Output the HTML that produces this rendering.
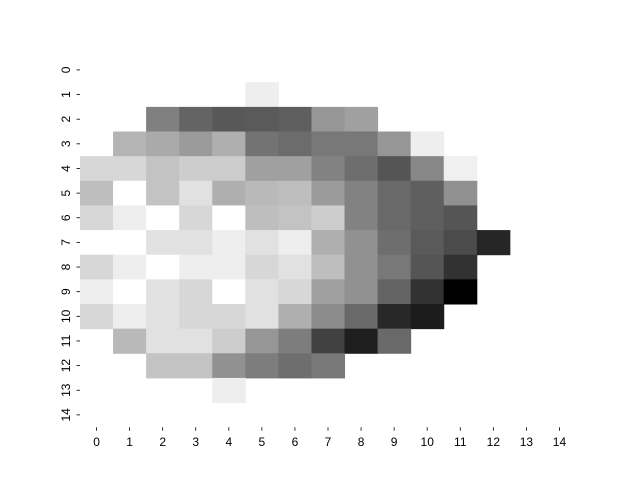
<!DOCTYPE html>
<html><head><meta charset="utf-8">
<style>
html,body{margin:0;padding:0;background:#fff;}
svg{display:block;font-family:"Liberation Sans","DejaVu Sans",sans-serif;}
</style></head>
<body>
<svg id="chart" width="640" height="480" viewBox="0 0 640 480" xmlns="http://www.w3.org/2000/svg">
<g id="cells"></g>
<g id="xaxis"></g>
<g id="yaxis"></g>
</svg>
<script>
const xLabels = [0,1,2,3,4,5,6,7,8,9,10,11,12,13,14];
const yLabels = [0,1,2,3,4,5,6,7,8,9,10,11,12,13,14];
const N = null;
// gray level per cell (0 = black, 255 = white), null = empty
const grid = [
[N,N,N,N,N,N,N,N,N,N,N,N,N,N,N],
[N,N,N,N,N,238,N,N,N,N,N,N,N,N,N],
[N,N,128,100,88,90,95,150,160,N,N,N,N,N,N],
[N,180,170,155,175,115,108,120,120,150,238,N,N,N,N],
[215,215,195,205,205,160,160,130,110,85,135,240,N,N,N],
[190,255,195,225,175,185,190,155,130,105,95,145,N,N,N],
[215,238,255,215,255,190,195,205,130,105,95,85,N,N,N],
[255,255,225,225,238,225,238,175,145,110,90,75,38,N,N],
[215,238,255,238,238,215,225,190,145,120,85,50,N,N,N],
[238,255,225,215,255,225,215,160,145,100,50,0,N,N,N],
[215,238,225,215,215,225,175,140,105,40,28,N,N,N,N],
[N,185,225,225,205,150,125,65,30,105,N,N,N,N,N],
[N,N,195,195,145,125,110,120,N,N,N,N,N,N,N],
[N,N,N,N,238,N,N,N,N,N,N,N,N,N,N],
[N,N,N,N,N,N,N,N,N,N,N,N,N,N,N]
];
const NS="http://www.w3.org/2000/svg";
const plotLeft=80, plotRight=576, plotTop=57.6, plotBottom=427.2;
const cw=(plotRight-plotLeft)/xLabels.length, ch=(plotBottom-plotTop)/yLabels.length;
function xPos(i){return plotLeft+i*cw;}
function yPos(j){return plotTop+j*ch;}
const cells=document.getElementById('cells');
grid.forEach((row,j)=>row.forEach((v,i)=>{
  if(v===null) return;
  const r=document.createElementNS(NS,'rect');
  r.setAttribute('x',xPos(i));r.setAttribute('y',yPos(j));
  r.setAttribute('width',cw+0.5);r.setAttribute('height',ch+0.5);
  r.setAttribute('fill',`rgb(${v},${v},${v})`);
  
  
  cells.appendChild(r);
}));
const xa=document.getElementById('xaxis');
xLabels.forEach((l,i)=>{
  const cx=xPos(i)+cw/2;
  const t=document.createElementNS(NS,'line');
  t.setAttribute('x1',cx);t.setAttribute('x2',cx);t.setAttribute('y1',plotBottom);t.setAttribute('y2',plotBottom+3.5);
  t.setAttribute('stroke','#000');t.setAttribute('stroke-width','0.8');
  
  
  xa.appendChild(t);
  const tx=document.createElementNS(NS,'text');
  tx.setAttribute('x',cx);tx.setAttribute('y',plotBottom+19);tx.setAttribute('text-anchor','middle');
  tx.setAttribute('font-size','12');tx.textContent=l;
  
  
  xa.appendChild(tx);
});
const ya=document.getElementById('yaxis');
yLabels.forEach((l,j)=>{
  const cy=yPos(j)+ch/2;
  const t=document.createElementNS(NS,'line');
  t.setAttribute('x1',plotLeft-3.5);t.setAttribute('x2',plotLeft);t.setAttribute('y1',cy);t.setAttribute('y2',cy);
  t.setAttribute('stroke','#000');t.setAttribute('stroke-width','0.8');
  
  
  ya.appendChild(t);
  const tx=document.createElementNS(NS,'text');
  tx.setAttribute('x',0);tx.setAttribute('y',0);tx.setAttribute('text-anchor','middle');
  tx.setAttribute('font-size','12');
  tx.setAttribute('transform',`translate(${plotLeft-14},${cy}) rotate(-90)`);
  tx.setAttribute('dy','0.35em');
  tx.textContent=l;
  
  
  ya.appendChild(tx);
});
</script>
</body></html>
